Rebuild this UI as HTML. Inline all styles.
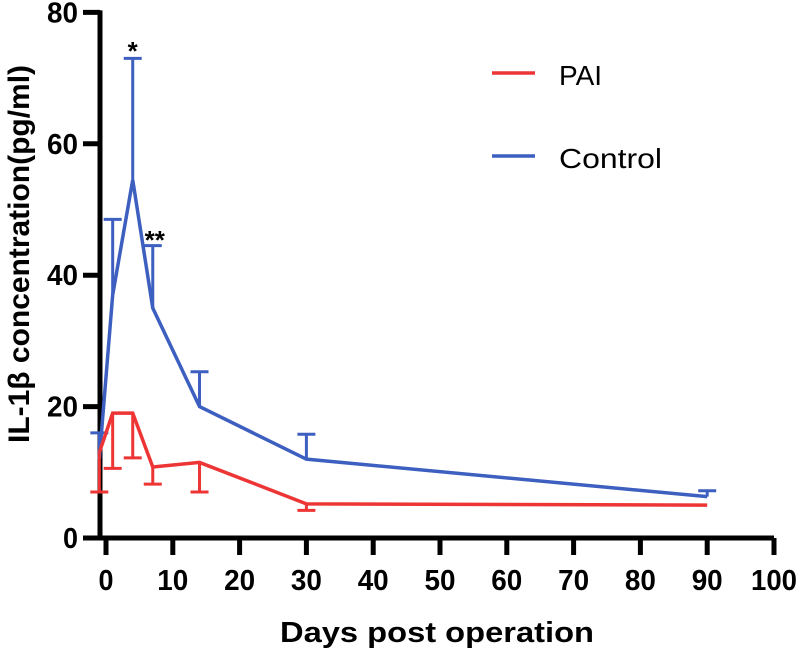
<!DOCTYPE html>
<html><head><meta charset="utf-8"><style>
html,body{margin:0;padding:0;background:#fff;}
svg{display:block;font-family:"Liberation Sans",Arial,sans-serif;}
</style></head><body>
<svg id="chart" width="800" height="652" viewBox="0 0 800 652"></svg>
<script>
const days = [-1, 1, 4, 7, 14, 30, 90];
const paiMean = [13, 19, 19, 10.8, 11.5, 5.2, 5];
const paiErr = [6, 8.4, 6.8, 2.6, 4.5, 1.0, 0];
const ctrlMean = [12, 37, 54.5, 35, 20, 12, 6.3];
const ctrlErr = [4, 11.5, 18.5, 9.5, 5.3, 3.8, 0.9];
const xTicks = [0,10,20,30,40,50,60,70,80,90,100];
const yTicks = [0,20,40,60,80];
const NS='http://www.w3.org/2000/svg';
const svg=document.getElementById('chart');
const X=d=>106+(d)*6.68;
const Y=v=>538-v*6.57;
function mk(t,a,name,parent){const e=document.createElementNS(NS,t);for(const k in a)e.setAttribute(k,a[k]);


(parent||svg).appendChild(e);return e;}
mk('line',{x1:100,y1:Y(0),x2:774,y2:Y(0),stroke:'#000','stroke-width':5},'x-axis');
mk('line',{x1:100,y1:Y(80)-2,x2:100,y2:Y(0)+2.5,stroke:'#000','stroke-width':5},'y-axis');
xTicks.forEach(t=>{
 mk('line',{x1:X(t),y1:Y(0),x2:X(t),y2:555,stroke:'#000','stroke-width':5},'x-tick');
 const w=t>=100?46:(t>=10?31:15);
 const tx=mk('text',{x:X(t),y:590,'text-anchor':'middle','font-size':29,'font-weight':'bold',textLength:w,lengthAdjust:'spacingAndGlyphs'},'x-tick-label');tx.textContent=t;
});
yTicks.forEach(t=>{
 mk('line',{x1:83,y1:Y(t),x2:100,y2:Y(t),stroke:'#000','stroke-width':5},'y-tick');
 const w=t>=10?31:15;
 const tx=mk('text',{x:78,y:Y(t)+10,'text-anchor':'end','font-size':29,'font-weight':'bold',textLength:w,lengthAdjust:'spacingAndGlyphs'},'y-tick-label');tx.textContent=t;
});
const xt=mk('text',{x:437,y:642,'text-anchor':'middle','font-size':29,'font-weight':'bold',textLength:314,lengthAdjust:'spacingAndGlyphs'},'x-axis-title');xt.textContent='Days post operation';
const yt=mk('text',{x:0,y:0,'text-anchor':'middle','font-size':30,'font-weight':'bold',textLength:378,lengthAdjust:'spacingAndGlyphs',transform:'translate(29,254) rotate(-90)'},'y-axis-title');yt.textContent='IL-1β concentration(pg/ml)';
function series(mean,err,color,dir,name){
 const g=mk('g',{},name+'-series');
 mk('polyline',{points:days.map((d,i)=>X(d)+','+Y(mean[i])).join(' '),fill:'none',stroke:color,'stroke-width':3.5},name+'-line',g);
 days.forEach((d,i)=>{ if(!err[i])return;
  const ye=Y(mean[i]+dir*err[i]);
  mk('line',{x1:X(d),y1:Y(mean[i]),x2:X(d),y2:ye,stroke:color,'stroke-width':3},name+'-error-bar',g);
  mk('line',{x1:X(d)-9,y1:ye,x2:X(d)+9,y2:ye,stroke:color,'stroke-width':3},name+'-error-cap',g);
 });
}
series(ctrlMean,ctrlErr,'#3d5fc0',1,'control');
series(paiMean,paiErr,'#ee3535',-1,'pai');
const s1=mk('text',{x:X(4),y:60,'text-anchor':'middle','font-size':26,'font-weight':'bold'},'significance-day4');s1.textContent='*';
const s2=mk('text',{x:X(7)+2,y:249,'text-anchor':'middle','font-size':26,'font-weight':'bold'},'significance-day7');s2.textContent='**';
mk('line',{x1:492,y1:73,x2:535,y2:73,stroke:'#ee3535','stroke-width':3.5},'legend-pai-swatch');
const l1=mk('text',{x:559,y:85,'font-size':28},'legend-pai-label');l1.textContent='PAI';
mk('line',{x1:492,y1:156,x2:535,y2:156,stroke:'#3d5fc0','stroke-width':3.5},'legend-control-swatch');
const l2=mk('text',{x:559,y:168,'font-size':28,textLength:103,lengthAdjust:'spacingAndGlyphs'},'legend-control-label');l2.textContent='Control';
</script>
</body></html>
